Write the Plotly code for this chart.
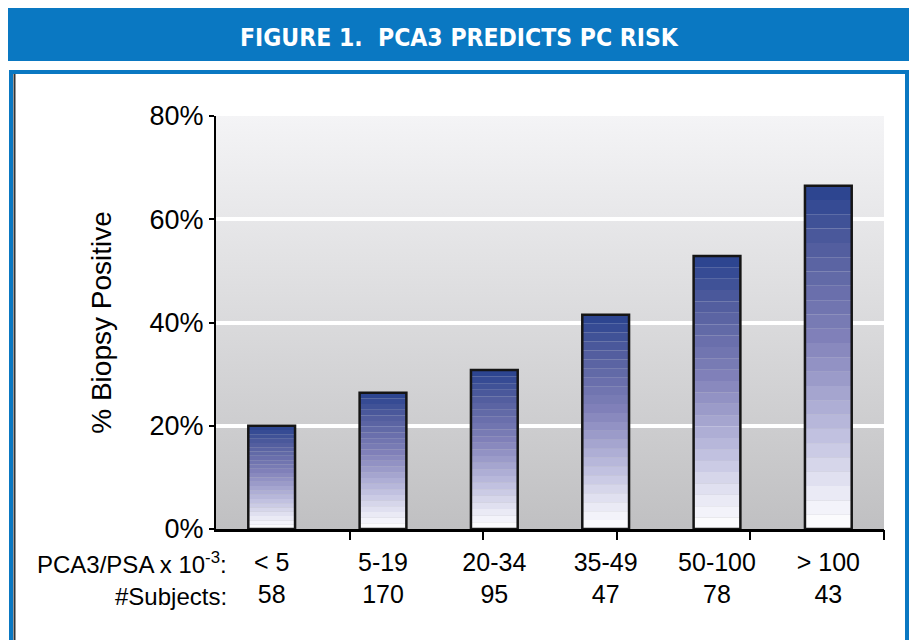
import plotly.graph_objects as go
import base64

# ---- data ----
categories = ["< 5", "5-19", "20-34", "35-49", "50-100", "> 100"]
subjects = [58, 170, 95, 47, 78, 43]
pct_positive = [20.0, 26.4, 30.8, 41.5, 52.9, 66.5]
y_ticks = [0, 20, 40, 60, 80]
y_ticklabels = ["0%", "20%", "40%", "60%", "80%"]

W, H = 911, 640
L, R, T, B = 216, 27, 116, 111
PW, PH = W - L - R, H - T - B


def px(xp):
    return (xp - L) / PW


def py(yp):
    return (H - B - yp) / PH


FONT = "Liberation Sans, Arial, Helvetica, sans-serif"

# bar gradient stops (bottom -> top)
stops = [(0.0, (255, 255, 255)), (0.08, (240, 240, 248)), (0.3, (186, 186, 220)),
         (0.55, (130, 130, 186)), (0.8, (86, 96, 160)), (1.0, (40, 66, 142))]


def grad(t):
    for (t0, c0), (t1, c1) in zip(stops[:-1], stops[1:]):
        if t <= t1:
            f = (t - t0) / (t1 - t0) if t1 > t0 else 0
            return "rgb(%d,%d,%d)" % tuple(round(a + (b - a) * f) for a, b in zip(c0, c1))
    return "rgb(%d,%d,%d)" % stops[-1][1]


N = 24
xs = list(range(len(categories)))
fig = go.Figure()
for i in range(N):
    fig.add_trace(go.Bar(
        x=xs, y=[v / N for v in pct_positive], base=[v * i / N for v in pct_positive],
        width=0.42, marker=dict(color=grad((i + 0.5) / N), line=dict(width=0)),
        showlegend=False, hoverinfo="skip"))
fig.add_trace(go.Bar(
    x=xs, y=pct_positive, base=[0] * len(xs), width=0.42,
    marker=dict(color="rgba(0,0,0,0)", line=dict(color="#151515", width=2.5)),
    showlegend=False))
# secondary axis for the bottom division ticks
fig.add_trace(go.Scatter(x=[], y=[], xaxis="x2", showlegend=False))

svg = ('<svg xmlns="http://www.w3.org/2000/svg" width="10" height="100" preserveAspectRatio="none">'
       '<defs><linearGradient id="g" x1="0" y1="0" x2="0" y2="1">'
       '<stop offset="0" stop-color="#f4f4f6"/><stop offset="1" stop-color="#c0c0c2"/>'
       '</linearGradient></defs><rect width="10" height="100" fill="url(#g)"/></svg>')
uri = "data:image/svg+xml;base64," + base64.b64encode(svg.encode()).decode()

BLUE = "#0a78c2"
shapes = [
    dict(type="rect", xref="paper", yref="paper", x0=px(8), x1=px(909), y0=py(8), y1=py(61),
         fillcolor=BLUE, line=dict(width=0), layer="below"),
    dict(type="rect", xref="paper", yref="paper", x0=px(11), x1=px(907), y0=py(72), y1=py(660),
         fillcolor="rgba(0,0,0,0)", line=dict(color=BLUE, width=4), layer="below"),
    dict(type="line", xref="paper", yref="paper", x0=px(14.5), x1=px(14.5), y0=py(74), y1=py(660),
         line=dict(color="#333333", width=2), layer="below"),
]

fig.update_layout(
    width=W, height=H, margin=dict(l=L, r=R, t=T, b=B),
    paper_bgcolor="white", plot_bgcolor="rgba(0,0,0,0)",
    barmode="overlay", font=dict(family=FONT, color="black"),
    images=[dict(source=uri, xref="paper", yref="paper", x=0, y=1, sizex=1, sizey=1,
                 sizing="stretch", xanchor="left", yanchor="top", layer="below")],
    shapes=shapes,
    xaxis=dict(range=[-0.5, len(categories) - 0.5], tickvals=xs,
               ticktext=["%s<br>%d" % (c, s) for c, s in zip(categories, subjects)],
               tickfont=dict(size=25), ticks="", showgrid=False, zeroline=False,
               showline=True, linecolor="black", linewidth=2.5, ticklabelstandoff=9),
    xaxis2=dict(overlaying="x", anchor="y", side="bottom", range=[0, 5],
                tickvals=[1, 2, 3, 4, 5], ticks="outside", ticklen=10, tickwidth=1.5,
                tickcolor="black", showticklabels=False, showgrid=False, zeroline=False,
                showline=False),
    yaxis=dict(range=[0, 80], tickvals=y_ticks, ticktext=y_ticklabels,
               tickfont=dict(size=27), ticks="outside", ticklen=5, tickwidth=2,
               tickcolor="black", showline=True, linecolor="black", linewidth=2,
               showgrid=True, gridcolor="white", gridwidth=4, zeroline=False,
               title=dict(text="% Biopsy Positive", font=dict(size=28), standoff=30)),
    annotations=[
        dict(text="<b>FIGURE 1.  PCA3 PREDICTS PC RISK</b>", xref="paper", yref="paper",
             x=px(459), y=py(37), xanchor="center", yanchor="middle", showarrow=False,
             font=dict(family="DejaVu Sans Condensed, Liberation Sans Narrow, Arial Narrow, sans-serif",
                       size=24.5, color="white")),
        dict(text="PCA3/PSA x 10<sup>-3</sup>:", xref="paper", yref="paper",
             x=px(229), y=py(563), xanchor="right", yanchor="middle", showarrow=False,
             font=dict(size=24)),
        dict(text="#Subjects:", xref="paper", yref="paper",
             x=px(229), y=py(596), xanchor="right", yanchor="middle", showarrow=False,
             font=dict(size=24)),
    ],
)

fig.write_html("out.html")
